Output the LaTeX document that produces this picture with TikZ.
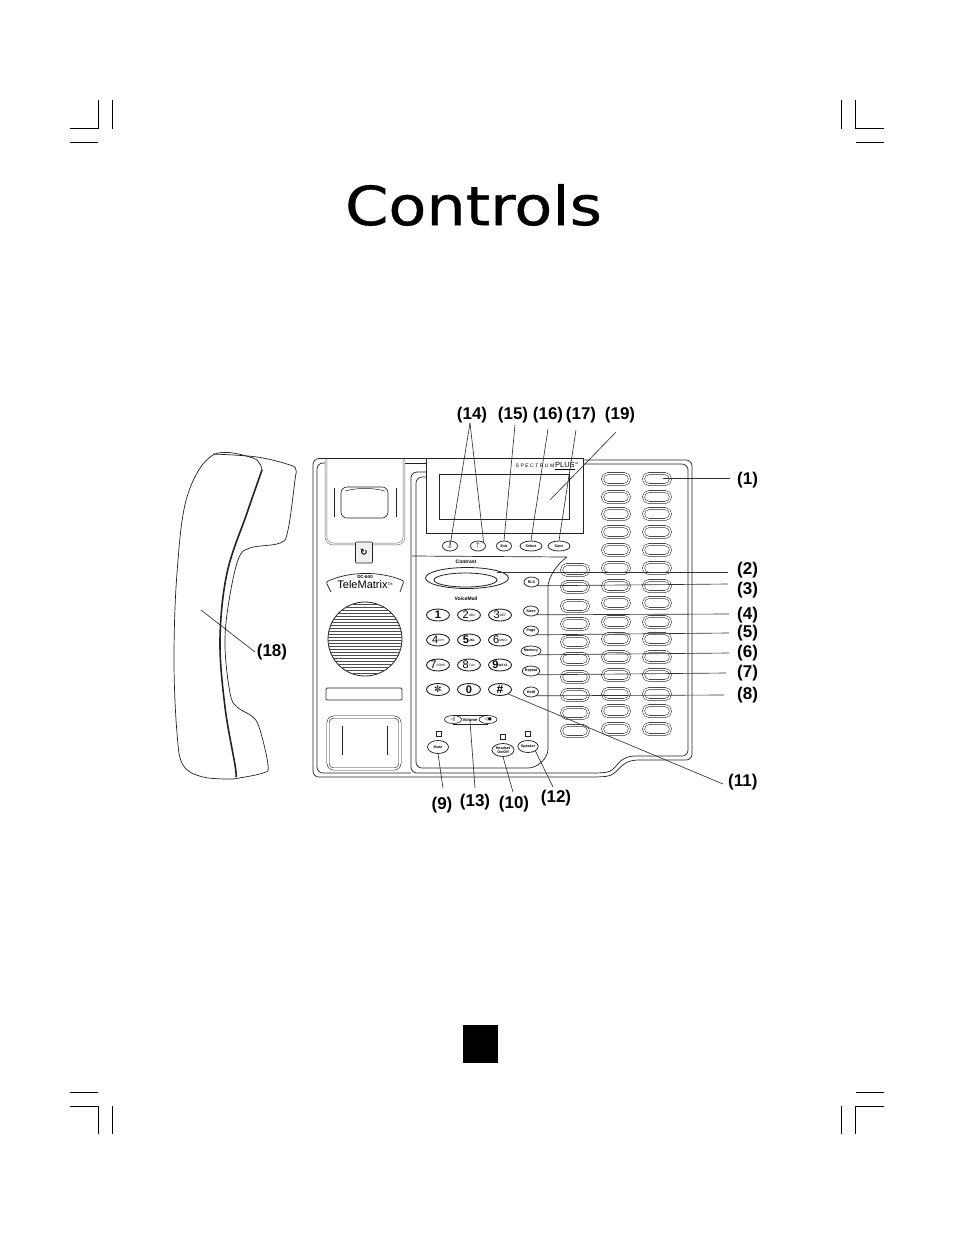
\documentclass[tikz,border=0pt]{standalone}
\usepackage{fontspec}
\setmainfont{Liberation Sans}
\newfontfamily\symfont{DejaVu Sans}
\newfontfamily\titlefont[FakeBold=0.6]{DejaVu Sans}
\definecolor{mLine}{HTML}{222222}
\definecolor{mLead}{HTML}{333333}
\definecolor{mKey}{HTML}{303030}
\usetikzlibrary{calc, shapes.geometric}
\newcommand{\keytxt}[2]{\fontsize{11}{11}\selectfont #1\raisebox{2.5pt}{\fontsize{3.2}{3.2}\selectfont #2}}
\newcommand{\smalltxt}{\fontsize{3.7}{3.9}\selectfont\bfseries}

\begin{document}
\begin{tikzpicture}
		[x=1pt, y=-1pt,
		crop/.style ={line width=1pt, black},
		outline/.style ={draw=mLine, line width=0.7pt, rounded corners=6pt},
		handset/.style ={draw=mLine, line width=0.7pt, smooth, tension=0.6},
		line key/.style ={rectangle, draw=mKey, line width=0.55pt, double, double distance=1.5pt, rounded corners=5.5pt, minimum width=27, minimum height=11, inner sep=0},
		padkey/.style ={ellipse, draw=mLine, line width=0.9pt, minimum width=23, minimum height=12, inner sep=0, align=center},
		softkey/.style ={ellipse, draw=mLine, line width=0.75pt, minimum width=15, minimum height=10, inner sep=0, align=center, font=\smalltxt},
		led/.style ={rectangle, draw=mLine, line width=0.7pt, minimum size=4.5, inner sep=0},
		lead/.style ={draw=mLead, line width=0.65pt},
		lbl/.style ={font=\fontsize{17}{17}\selectfont\bfseries, inner sep=0},
		lblr/.style ={lbl, anchor=west}]
		\useasboundingbox (0,0) rectangle (954,1235);
		\fill[white] (0,0) rectangle (954,1235);

		\draw[crop] (70,128.5) -- (98,128.5) -- (98,100);
		\draw[crop] (112.5,100) -- (112.5,128.5);
		\draw[crop] (70,142.5) -- (98,142.5);
		\draw[crop] (884,128.5) -- (855.5,128.5) -- (855.5,100);
		\draw[crop] (841,100) -- (841,128.5);
		\draw[crop] (855.5,142.5) -- (884,142.5);
		\draw[crop] (70,1106) -- (98,1106) -- (98,1133.5);
		\draw[crop] (112.5,1106) -- (112.5,1133.5);
		\draw[crop] (70,1092.5) -- (98,1092.5);
		\draw[crop] (884,1106) -- (855.5,1106) -- (855.5,1133.5);
		\draw[crop] (841,1106) -- (841,1133.5);
		\draw[crop] (855.5,1092.5) -- (884,1092.5);

		\draw (473.5,205) node[xscale=1.15, inner sep=0, font=\titlefont\fontsize{54}{54}\selectfont] (title) {Controls};
		\draw (480.5,1044) node[fill=black, minimum width=35, minimum height=38, inner sep=0] (page) {};

		\draw[handset] plot coordinates {(262,470) (253,458) (213,455) (187,497) (177,573) (174,660) (177,733) (183,765) (203,777) (233,779)};
		\draw[handset] plot coordinates {(213,454) (257,457) (290,465) (296,470) (295,480) (288,530) (280,543) (250,548) (238,560) (228,607) (225,647) (230,693) (237,707) (253,717) (260,730) (268,765) (263,773) (233,779)};
		\draw[handset, line width=1.6pt] plot coordinates {(262,470) (247,513) (227,573) (220,640) (225,707) (235,765) (236,777)};

		\draw[outline] (426,458.5) -- (313,458.5) -- (313,777) -- (600,777) .. controls (620,775) and (618,760) .. (645,760) -- (692,760) -- (692,460) -- (583,460);
		\draw[outline] (325,463) -- (317,463) -- (317,773) -- (411,773);
		\draw[outline, rounded corners=3pt] (405,463) -- (426,463);
		\draw[outline] (426,472) -- (411,472) -- (411,773) -- (600,773) .. controls (618,771) and (616,756) .. (642,756) -- (688,756) -- (688,464) -- (583,464);
		\draw[outline] (426,477) -- (416,477) -- (416,768) -- (522,768) .. controls (538,768) and (548,758) .. (548,743) -- (548,593) .. controls (548,578) and (556,565) .. (567,557);
		\draw[outline] (412,556) -- (567,557);

		\draw[draw=mLine, fill=white, line width=0.8pt] (426,458) rectangle (583,533);
		\draw (504,496.5) node[rectangle, draw=mLine, line width=0.9pt, minimum width=130, minimum height=45, inner sep=0] (lcd) {};
		\draw (547,466) node[inner sep=0, font=\fontsize{5}{5}\selectfont] (brand) {\addfontfeature{LetterSpace=30}SPECTRUM\,\fontsize{7.5}{7.5}\selectfont\addfontfeature{LetterSpace=0}\underline{PLUS}\raisebox{3pt}{\fontsize{2.5}{2.5}\selectfont TM}};

		\draw[draw=gray!80!black, line width=0.5pt, double, double distance=1.3pt, rounded corners=7pt] (326,458) -- (326,544) -- (404,544) -- (404,458);
		\draw[draw=mLine, line width=0.6pt] (325,458) -- (405,458);
		\draw (364.5,502.5) node[rectangle, draw=mLine, line width=0.6pt, rounded corners=6pt, minimum width=47, minimum height=31, inner sep=0] (hook) {};
		\draw[draw=mLine, line width=0.5pt] (345,491) .. controls (358,487.5) and (372,487.5) .. (385,491);
		\draw[draw=mLine, line width=0.5pt] (334,488) -- (334,517);
		\draw[draw=mLine, line width=0.5pt] (396,488) -- (396,517);
		\draw (364,552.5) node[rectangle, draw=mLine, fill=gray!12, line width=0.6pt, rounded corners=1pt, minimum width=17, minimum height=21, inner sep=0, font=\symfont\fontsize{9}{9}\selectfont\bfseries] (tab) {↻};

		\draw[draw=mLine, line width=0.7pt, rounded corners=2pt] (331,592) -- (326,582) .. controls (350,571) and (380,571) .. (404,581) -- (400,592);
		\draw (365,576.5) node[inner sep=0, font=\fontsize{4.5}{4.5}\selectfont\bfseries] (model) {DC-640};
		\draw (365,585) node[inner sep=0, font=\fontsize{11}{11}\selectfont] (brand2) {TeleMatrix\raisebox{3.5pt}{\fontsize{3.5}{3.5}\selectfont TM}};

		\draw (365,639) node[circle, draw=mLine, line width=0.8pt, minimum size=74, inner sep=0] (grille) {};
		\begin{scope}
			\clip (365,639) circle (37);
			\foreach \y in {604,607,...,675}
				\draw[draw=mLine!80, line width=0.7pt] (320,\y) -- (410,\y);
		\end{scope}

		\draw (364,694) node[rectangle, draw=mLine, line width=0.7pt, rounded corners=1pt, minimum width=76, minimum height=12, inner sep=0] (slot) {};
		\draw (364,743) node[rectangle, draw=mLine, line width=0.55pt, double, double distance=1.6pt, rounded corners=6pt, minimum width=72, minimum height=52, inner sep=0] (tray) {};
		\draw[draw=mLine, line width=0.5pt] (342,726) -- (342,755);
		\draw[draw=mLine, line width=0.5pt] (387,726) -- (387,755);

		\foreach \y in {479,497,514,532,550,568,586,603,622,639,657,675,694,711,729}
		{
			\draw (616,\y) node[line key] (bb\y) {};
			\draw (657,\y) node[line key] (bc\y) {};
		}
		\foreach \y in {570,587,606,624,642,659,677,695,713,731}
			\draw (575,\y) node[line key] (ba\y) {};

		\draw (450,546) node[softkey] (down) {\fontsize{7}{7}\selectfont$\downarrow$};
		\draw (478,546) node[softkey] (up) {\fontsize{7}{7}\selectfont$\uparrow$};
		\draw (504,546) node[softkey] (exit) {Exit};
		\draw (531,546) node[softkey, minimum width=22] (select) {Select};
		\draw (559,546) node[softkey, minimum width=22] (save) {Save};

		\draw (466,562) node[inner sep=0, font=\fontsize{5}{5}\selectfont\bfseries] (ctext) {Contrast};
		\draw (467,578) node[ellipse, draw=mLine, line width=0.8pt, minimum width=83, minimum height=21, inner sep=0] (cont) {};
		\draw (465.5,580) node[ellipse, draw=mLine, line width=0.8pt, minimum width=63, minimum height=14, inner sep=0] (vmail) {};
		\draw (466,599) node[inner sep=0, font=\fontsize{5}{5}\selectfont\bfseries] (vtext) {VoiceMail};

		\draw (531.5,582) node[softkey] (rls) {RLS};
		\draw (531,611) node[softkey] (store) {Store};
		\draw (531,631) node[softkey] (pagekey) {Page};
		\draw (531,651) node[softkey] (memory) {Memory};
		\draw (531,671) node[softkey] (repeat) {Repeat};
		\draw (531,692) node[softkey] (hold) {Hold};

		\draw (438,615) node[padkey] (k1) {\bfseries\keytxt{1}{}};
		\draw (469,615) node[padkey] (k2) {\keytxt{2}{ABC}};
		\draw (500,615) node[padkey] (k3) {\keytxt{3}{DEF}};
		\draw (438,640) node[padkey] (k4) {\keytxt{4}{GHI}};
		\draw (469,640) node[padkey] (k5) {\bfseries\keytxt{5}{JKL}};
		\draw (500,640) node[padkey] (k6) {\keytxt{6}{MNO}};
		\draw (438,665) node[padkey] (k7) {\keytxt{7}{PQRS}};
		\draw (469,665) node[padkey] (k8) {\keytxt{8}{TUV}};
		\draw (500,665) node[padkey] (k9) {\bfseries\keytxt{9}{WXYZ}};
		\draw (438,689.5) node[padkey] (kstar) {\symfont\fontsize{9}{9}\selectfont ✼};
		\draw (469,689.5) node[padkey] (k0) {\bfseries\keytxt{0}{}};
		\draw (500,689.5) node[padkey] (khash) {\bfseries\fontsize{12}{12}\selectfont\#};

		\draw (453,719.5) node[ellipse, draw=mLine, line width=0.6pt, minimum width=17, minimum height=8, inner sep=0, font=\symfont\fontsize{4.5}{4.5}\selectfont] (voll) {◁|};
		\draw (488,719.5) node[ellipse, draw=mLine, line width=0.6pt, minimum width=18, minimum height=8, inner sep=0, font=\symfont\fontsize{4.5}{4.5}\selectfont] (volr) {◁●};
		\draw (470,719.5) node[inner sep=0, font=\fontsize{4.2}{4.2}\selectfont\bfseries] (vol) {Volume};
		\draw[draw=mLine, line width=0.5pt] (voll.north) -- (volr.north);
		\draw[draw=mLine, line width=0.5pt] (voll.south) -- (volr.south);

		\draw (439,734) node[led] (ledm) {};
		\draw (503,737) node[led] (ledh) {};
		\draw (528,734) node[led] (leds) {};
		\draw (438,747) node[softkey, minimum width=21, minimum height=13] (mute) {Mute};
		\draw (503,750) node[softkey, minimum width=22, minimum height=13] (head) {Headset\\On/Off};
		\draw (528,746.5) node[softkey, minimum width=20, minimum height=12] (speak) {Speaker};

		\draw (472,415) node[lbl] (l14) {(14)};
		\draw (513,415) node[lbl] (l15) {(15)};
		\draw (548,415) node[lbl] (l16) {(16)};
		\draw (581,415) node[lbl] (l17) {(17)};
		\draw (620,415) node[lbl] (l19) {(19)};
		\draw (737,480) node[lblr] (l1) {(1)};
		\draw (737,570) node[lblr] (l2) {(2)};
		\draw (737,590) node[lblr] (l3) {(3)};
		\draw (737,615) node[lblr] (l4) {(4)};
		\draw (737,633) node[lblr] (l5) {(5)};
		\draw (737,653) node[lblr] (l6) {(6)};
		\draw (737,673) node[lblr] (l7) {(7)};
		\draw (737,695) node[lblr] (l8) {(8)};
		\draw (728,782) node[lblr] (l11) {(11)};
		\draw (272,652) node[lbl] (l18) {(18)};
		\draw (442,805) node[lbl] (l9) {(9)};
		\draw (475,802) node[lbl] (l13) {(13)};
		\draw (514,804) node[lbl] (l10) {(10)};
		\draw (556,798) node[lbl] (l12) {(12)};

		\coordinate (t14) at (470,423);
		\coordinate (t15) at (515,425);
		\coordinate (t16) at (548,429);
		\coordinate (t17) at (576,430);
		\coordinate (t19) at (616,432);
		\coordinate (s19) at (550,500);
		\coordinate (e1) at (730,478);
		\coordinate (e2) at (728,572.5);
		\coordinate (e3) at (728,584);
		\coordinate (e4) at (729,614);
		\coordinate (e5) at (729,633);
		\coordinate (e6) at (729,653);
		\coordinate (e7) at (726,673);
		\coordinate (e8) at (724,695);
		\coordinate (e11) at (723,784);
		\coordinate (s18) at (201,610);
		\coordinate (e18) at (255,652);
		\coordinate (e9) at (443,788);
		\coordinate (e13) at (475,788);
		\coordinate (e10) at (513,792);
		\coordinate (e12) at (553,787);

		\draw (t14) edge [lead] (down.center);
		\draw (t14) edge [lead] (up.north east);
		\draw (t15) edge [lead] (exit.north);
		\draw (t16) edge [lead] (select.north);
		\draw (t17) edge [lead] (save.north);
		\draw (t19) edge [lead] (s19);
		\draw ($(bc479.center) + (6,-1)$) edge [lead] (e1);
		\draw ($(cont.center) + (30,-5.5)$) edge [lead] (e2);
		\draw (rls.south east) edge [lead] (e3);
		\draw (store.south east) edge [lead] (e4);
		\draw (pagekey.south east) edge [lead] (e5);
		\draw (memory.south east) edge [lead] (e6);
		\draw (repeat.south east) edge [lead] (e7);
		\draw (hold.south east) edge [lead] (e8);
		\draw (khash.south east) edge [lead] (e11);
		\draw (s18) edge [lead] (e18);
		\draw (mute.south) edge [lead] (e9);
		\draw (vol.south) edge [lead] (e13);
		\draw (head.south) edge [lead] (e10);
		\draw (speak.south east) edge [lead] (e12);

	\end{tikzpicture}
\end{document}
